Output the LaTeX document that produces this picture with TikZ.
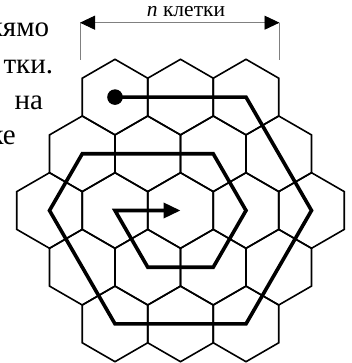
\documentclass[tikz,border=0pt]{standalone}
\usepackage{fontspec}
\setmainfont{Liberation Serif}
\usetikzlibrary{arrows.meta}

\tikzset{dimtip/.tip={Triangle[length=15pt, width=14pt, color=black]}}

\begin{document}
\begin{tikzpicture}[x=1pt, y=-1pt,
    hexline/.style={line width=1.6pt, line join=miter},
    spiral/.style={line width=3.6pt, line join=miter},
    dimline/.style={gray, line width=0.9pt},
    sidetext/.style={anchor=base east, inner sep=0pt, font=\fontsize{29}{34}\selectfont}]

\clip (0, 0) rectangle (352, 363);

% Cells
\foreach \r/\n in {1/3, 2/4, 3/5, 4/4, 5/3} {
  \foreach \c in {1,...,\n} {
    \coordinate (h\r\c) at ({180.5 + (\c - (\n + 1)/2)*65.5}, {97.1 + (\r - 1)*56.7});
    \draw [hexline, shift={(h\r\c)}] (30:37.8) -- (90:37.8) -- (150:37.8) -- (210:37.8) -- (270:37.8) -- (330:37.8) -- cycle;
  }
}

% Spiral
\fill (h11) circle (7.8);
\draw [spiral, -{Triangle[length=17pt, width=15pt]}] (h11) -- (h13) -- (h35) -- (h53) -- (h51) -- (h31) -- (h21) -- (h23) -- (h34) -- (h43) -- (h42) -- (h32) -- (h33);

% Width
\coordinate (dl) at (80, 22.7);
\coordinate (dr) at (279.5, 22.7);
\draw [dimline] (dl) -- ++(0, 37.3);
\draw [dimline] (dr) -- ++(0, 37.3);
\draw [dimline, dimtip-dimtip] (dl) -- (dr);
\node (width) [anchor=base, inner sep=0pt, font=\fontsize{21.5}{24}\selectfont] at (186, 16.7) {\textit{n} клетки};

% Text
\node (t1) [sidetext] at (49.3, 36.7) {кямо};
\node (t2) [sidetext] at (53.3, 73.3) {тки.};
\node (t3) [sidetext] at (43.3, 110) {на};
\node (t4) [sidetext] at (16, 144.3) {ке};
\end{tikzpicture}
\end{document}
